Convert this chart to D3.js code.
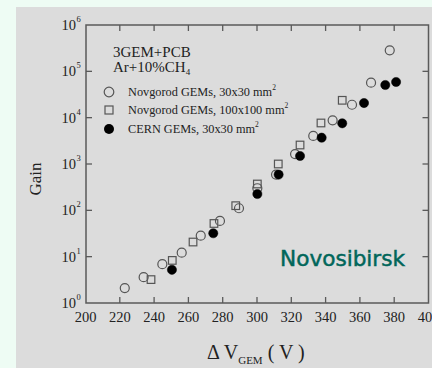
<!DOCTYPE html>
<html><head><meta charset="utf-8">
<script src="https://cdn.jsdelivr.net/npm/d3@7"></script>
<style>
html,body{margin:0;padding:0;background:#eefcf4;}
svg{display:block;}
</style></head>
<body>
<svg id="c" width="432" height="368"></svg>
<script>
// Data (ΔV_GEM in volts, gain)
const novgorod30V = [222.9, 233.9, 244.8, 256.1, 267.2, 278.4, 289.5, 300.2, 311.1, 322.2, 332.8, 344.1, 355.4, 366.5, 377.4];
const novgorod30G = [2.1, 3.6, 6.9, 12.2, 28.4, 59, 111, 300, 590, 1640, 4030, 8770, 19000, 56900, 284000];
const novgorod100V = [238.2, 250.6, 262.7, 274.9, 287.6, 300.2, 312.4, 325.1, 337.3, 349.7];
const novgorod100G = [3.2, 8.3, 20.7, 52, 126, 370, 1000, 2570, 7680, 23700];
const cernV = [250.4, 274.5, 300.2, 312.6, 325.1, 337.7, 349.7, 362.4, 374.8, 381.1];
const cernG = [5.2, 32, 225, 590, 1490, 3700, 7560, 20700, 50700, 58900];
const xTicks = [200, 220, 240, 260, 280, 300, 320, 340, 360, 380, 400];
const yExps = [0, 1, 2, 3, 4, 5, 6];
const legendLabels = ["Novgorod GEMs, 30x30 mm", "Novgorod GEMs, 100x100 mm", "CERN GEMs, 30x30 mm"];

const svg = d3.select("#c");
const L = 86, R = 428.5, T = 25, B = 303;
const x = d3.scaleLinear().domain([200, 400]).range([85.5, 428.5]);
const y = d3.scaleLog().domain([1, 1e6]).range([B, T]);
const axisCol = "#5a5a5a";
const serif = "'Liberation Serif','Times New Roman',serif";

// gray panel
svg.append("rect").attr("x", 16).attr("y", 7).attr("width", 432 - 16).attr("height", 368 - 7).attr("fill", "#dcdcdc");

// ticks inward on all sides
const tl = 6;
const tg = svg.append("g").attr("stroke", axisCol).attr("stroke-width", 1.3);
xTicks.slice(1, -1).forEach(v => {
  tg.append("line").attr("x1", x(v)).attr("x2", x(v)).attr("y1", B).attr("y2", B - tl);
  tg.append("line").attr("x1", x(v)).attr("x2", x(v)).attr("y1", T).attr("y2", T + tl);
});
yExps.slice(1, -1).forEach(e => {
  const py = y(Math.pow(10, e));
  tg.append("line").attr("x1", L).attr("x2", L + tl).attr("y1", py).attr("y2", py);
  tg.append("line").attr("x1", R).attr("x2", R - tl).attr("y1", py).attr("y2", py);
});
// frame
svg.append("rect").attr("x", L).attr("y", T).attr("width", R - L).attr("height", B - T)
  .attr("fill", "none").attr("stroke", axisCol).attr("stroke-width", 1.5);

// x tick labels
svg.append("g").selectAll("text").data(xTicks).join("text")
  .attr("x", d => x(d)).attr("y", 322).attr("text-anchor", "middle")
  .attr("font-family", serif).attr("font-size", 14.5).attr("fill", "#222").text(d => d);

// y tick labels
yExps.forEach(e => {
  const py = y(Math.pow(10, e));
  const t = svg.append("text").attr("x", 76).attr("y", py + 5).attr("text-anchor", "end")
    .attr("font-family", serif).attr("font-size", 14.5).attr("fill", "#222").text("10");
  svg.append("text").attr("x", 76.5).attr("y", py - 3).attr("font-family", serif)
    .attr("font-size", 8.5).attr("fill", "#222").text(e);
});

// axis titles
svg.append("text").attr("transform", "translate(41,179) rotate(-90)").attr("text-anchor", "middle")
  .attr("font-family", serif).attr("font-size", 17).attr("fill", "#222").text("Gain");
const xl = svg.append("text").attr("x", 207).attr("y", 359).attr("font-family", serif)
  .attr("font-size", 20).attr("fill", "#222");
xl.append("tspan").text("\u0394 V");
xl.append("tspan").attr("font-size", 11).attr("dy", 5).text("GEM");
xl.append("tspan").attr("dy", -5).text(" ( V )");

// Novosibirsk
svg.append("text").attr("x", 280).attr("y", 265.5).attr("font-family", "'DejaVu Sans',Verdana,sans-serif")
  .attr("font-size", 21.5).attr("fill", "#00665a").attr("stroke", "#00665a").attr("stroke-width", 0.5)
  .attr("textLength", 125).attr("lengthAdjust", "spacingAndGlyphs").text("Novosibirsk");

// markers
const stroke = "#555";
const pts = (V, G) => V.map((v, i) => ({v, g: G[i]}));
svg.append("g").selectAll("circle").data(pts(novgorod30V, novgorod30G)).join("circle")
  .attr("cx", d => x(d.v)).attr("cy", d => y(d.g)).attr("r", 4.5)
  .attr("fill", "none").attr("stroke", stroke).attr("stroke-width", 1.2);
svg.append("g").selectAll("rect").data(pts(novgorod100V, novgorod100G)).join("rect")
  .attr("x", d => x(d.v) - 3.8).attr("y", d => y(d.g) - 3.8).attr("width", 7.6).attr("height", 7.6)
  .attr("fill", "none").attr("stroke", stroke).attr("stroke-width", 1.2);
svg.append("g").selectAll("circle").data(pts(cernV, cernG)).join("circle")
  .attr("cx", d => x(d.v)).attr("cy", d => y(d.g)).attr("r", 4.6)
  .attr("fill", "#000").attr("stroke", "#000").attr("stroke-width", 0.5);

// legend
svg.append("text").attr("x", 113).attr("y", 57).attr("font-family", serif).attr("font-size", 15).attr("fill", "#222").text("3GEM+PCB");
const t2 = svg.append("text").attr("x", 113).attr("y", 72).attr("font-family", serif).attr("font-size", 15).attr("fill", "#222");
t2.append("tspan").text("Ar+10%CH");
t2.append("tspan").attr("font-size", 9).attr("dy", 3).text("4");

const ly = [92, 110, 129];
svg.append("circle").attr("cx", 109).attr("cy", ly[0]).attr("r", 4.8).attr("fill", "none").attr("stroke", stroke).attr("stroke-width", 1.2);
svg.append("rect").attr("x", 109 - 4).attr("y", ly[1] - 4).attr("width", 8).attr("height", 8).attr("fill", "none").attr("stroke", stroke).attr("stroke-width", 1.2);
svg.append("circle").attr("cx", 109).attr("cy", ly[2]).attr("r", 5).attr("fill", "#000");
legendLabels.forEach((s, i) => {
  const t = svg.append("text").attr("x", 128).attr("y", ly[i] + 4).attr("font-family", serif)
    .attr("font-size", 12.3).attr("fill", "#222");
  t.append("tspan").text(s);
  t.append("tspan").attr("font-size", 7.5).attr("dy", -6).text("2");
});
</script>
</body></html>
